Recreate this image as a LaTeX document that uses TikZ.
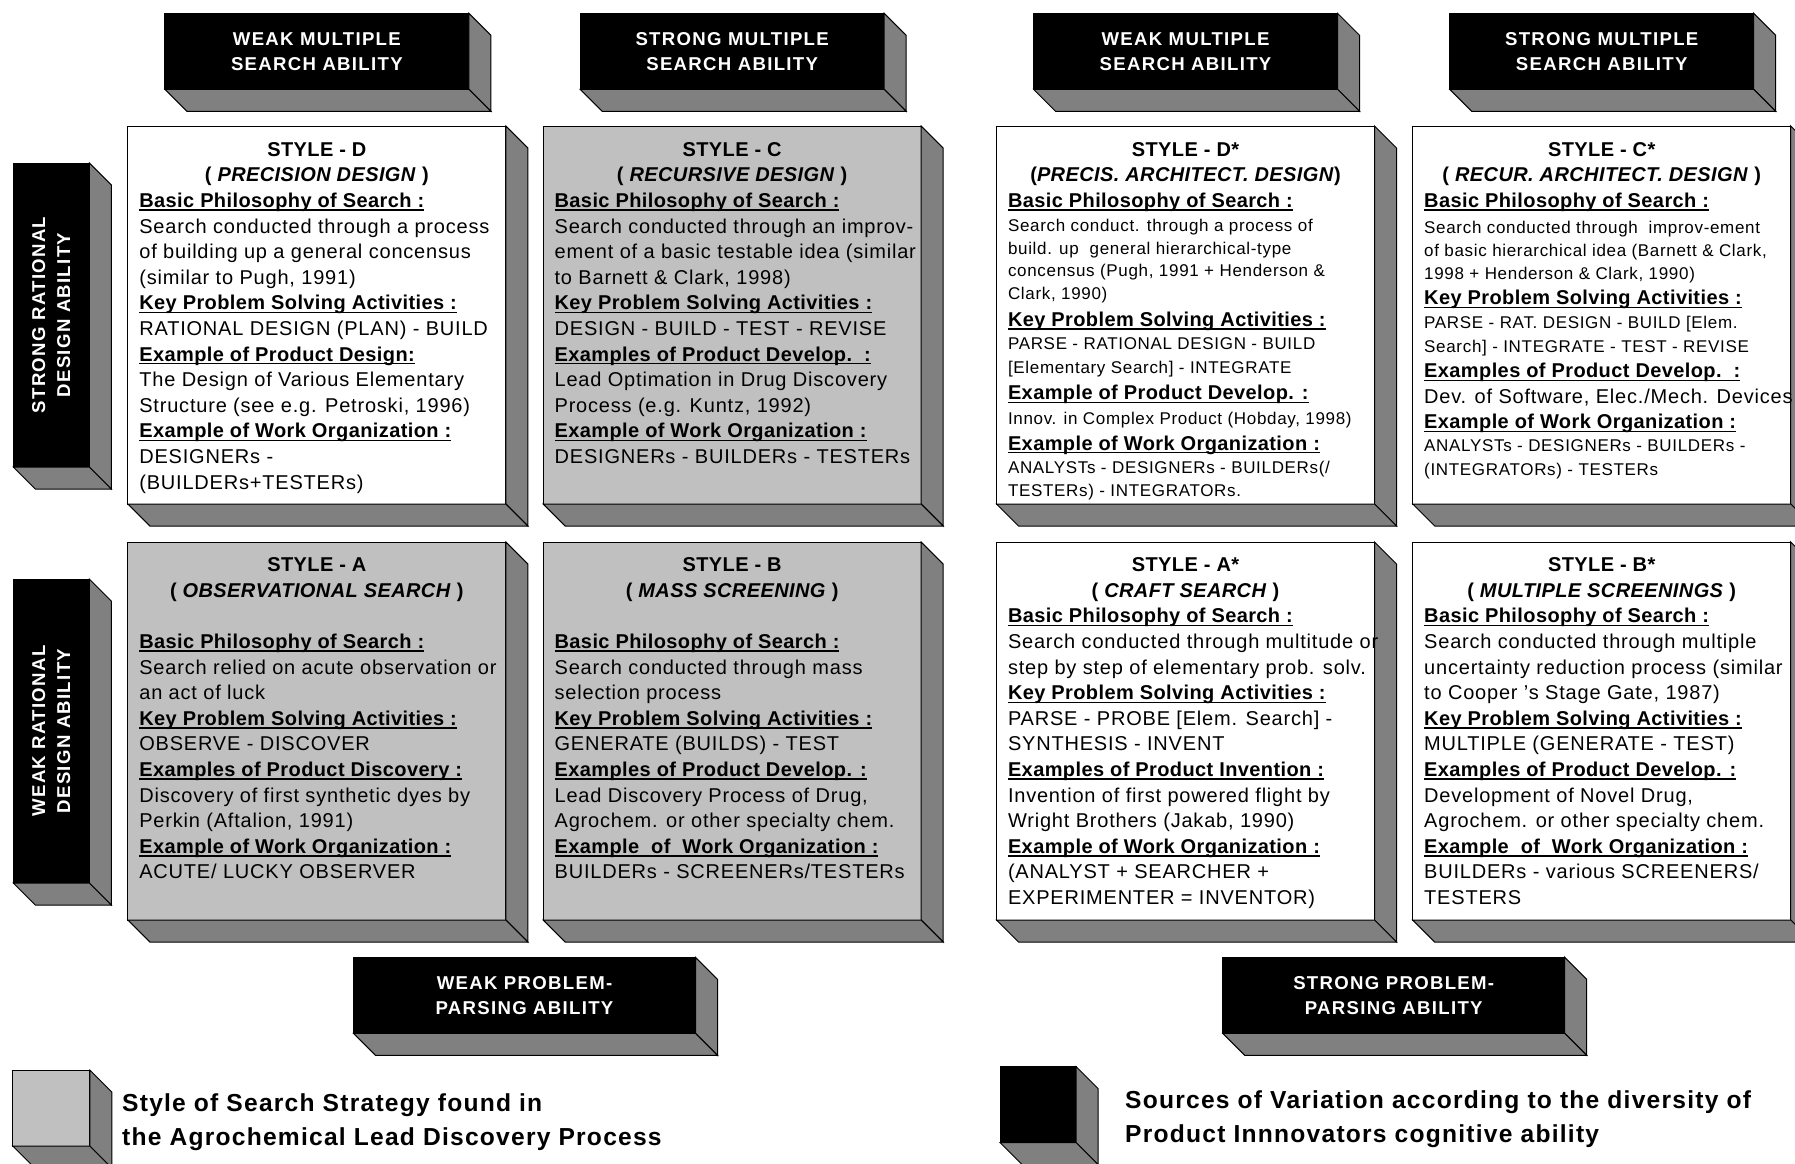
\documentclass[tikz,border=0pt]{standalone}
\usepackage{fontspec}
\setmainfont{Liberation Sans}[LetterSpace=4]
\newfontfamily\headfont{Liberation Sans}[LetterSpace=2]
\newfontfamily\labfont{Liberation Sans}[LetterSpace=7]
\newfontfamily\legfont{Liberation Sans}[LetterSpace=5]

\definecolor{sidegray}{HTML}{808080}
\definecolor{facegray}{HTML}{C0C0C0}

\newcommand{\sm}{\fontsize{17}{22}\selectfont}
\newcommand{\fst}{\rule{0pt}{16pt}}
\newcommand{\ttl}[1]{\makebox[355pt][c]{\headfont\bfseries #1}}
\newcommand{\hdline}[1]{\setbox0=\hbox{\headfont\bfseries #1}\rlap{\rule[-3.2pt]{\wd0}{1.3pt}}\box0}

\tikzset{
  face/.style={draw=black, line width=1pt, inner sep=0pt, outer sep=0pt},
  side/.style={draw=black, line width=1pt, fill=sidegray, line join=miter},
  cell/.style={face, minimum width=378pt, minimum height=378pt},
  lab/.style={text=white, align=center, inner sep=0pt, font=\labfont\bfseries\fontsize{18.6}{25}\selectfont},
  hdbox/.style={face, lab, fill=black, minimum width=304pt, minimum height=76pt},
  sidebox/.style={face, fill=black, minimum width=76pt, minimum height=304pt},
  botbox/.style={face, lab, fill=black, minimum width=342pt, minimum height=76pt},
  boxtext/.style={anchor=north west, inner sep=0pt, align=left, font=\fontsize{20}{25.6}\selectfont},
  legtext/.style={anchor=west, inner sep=0pt, align=left, font=\legfont\bfseries\fontsize{24.6}{34}\selectfont}
}

\begin{document}
\begin{tikzpicture}[x=1pt,y=-1pt]
\useasboundingbox (0,0) rectangle (1795,1163);

\node[hdbox] (hWeakL) at (316.85,51.3) {WEAK MULTIPLE\\SEARCH ABILITY};
\node[hdbox] (hStrongL) at (732.15,51.3) {STRONG MULTIPLE\\SEARCH ABILITY};
\node[hdbox] (hWeakR) at (1185.5,51.3) {WEAK MULTIPLE\\SEARCH ABILITY};
\node[hdbox] (hStrongR) at (1601.7,51.3) {STRONG MULTIPLE\\SEARCH ABILITY};

\node[sidebox] (sStrong) at (51.3,315) {};
\node[sidebox] (sWeak) at (51.3,731) {};

\node[cell, fill=white] (cD) at (316.85,315) {};
\node[cell, fill=facegray] (cC) at (732.15,315) {};
\node[cell, fill=white] (cDs) at (1185.5,315) {};
\node[cell, fill=white] (cCs) at (1601.7,315) {};
\node[cell, fill=facegray] (cA) at (316.85,731) {};
\node[cell, fill=facegray] (cB) at (732.15,731) {};
\node[cell, fill=white] (cAs) at (1185.5,731) {};
\node[cell, fill=white] (cBs) at (1601.7,731) {};

\node[botbox] (bWeak) at (524.5,995.3) {WEAK PROBLEM-\\PARSING ABILITY};
\node[botbox] (bStrong) at (1393.7,995.3) {STRONG PROBLEM-\\PARSING ABILITY};

\node[face, fill=facegray, minimum width=77pt, minimum height=76pt] (lgGray) at (51.3,1108) {};
\node[face, fill=black, minimum width=76pt, minimum height=76pt] (lgBlack) at (1038.2,1104.7) {};

\foreach \n in {hWeakL,hStrongL,hWeakR,hStrongR,sStrong,sWeak,cD,cC,cDs,cCs,cA,cB,cAs,cBs,bWeak,bStrong,lgGray,lgBlack} {
  \filldraw[side] (\n.north east) -- ++(22,22) -- ([shift={(22,22)}]\n.south east) -- (\n.south east) -- cycle;
  \filldraw[side] (\n.south west) -- ++(22,22) -- ([shift={(22,22)}]\n.south east) -- (\n.south east) -- cycle;
}

\node[lab, rotate=90] (tStrong) at (sStrong) {STRONG RATIONAL\\DESIGN ABILITY};
\node[lab, rotate=90] (tWeak) at (sWeak) {WEAK RATIONAL\\DESIGN ABILITY};

\node[boxtext] (txD) at ([shift={(11.3,14)}]cD.north west) {%
\fst\ttl{STYLE - D}\\
\ttl{( \textit{PRECISION DESIGN} )}\\
\hdline{Basic Philosophy of Search :}\\
Search conducted through a process\\
of building up a general concensus\\
(similar to Pugh, 1991)\\
\hdline{Key Problem Solving Activities :}\\
RATIONAL DESIGN (PLAN) - BUILD\\
\hdline{Example of Product Design:}\\
The Design of Various Elementary\\
Structure (see e.g. Petroski, 1996)\\
\hdline{Example of Work Organization :}\\
DESIGNERs -\\
(BUILDERs+TESTERs)};

\node[boxtext] (txC) at ([shift={(11.3,14)}]cC.north west) {%
\fst\ttl{STYLE - C}\\
\ttl{( \textit{RECURSIVE DESIGN} )}\\
\hdline{Basic Philosophy of Search :}\\
Search conducted through an improv-\\
ement of a basic testable idea (similar\\
to Barnett \& Clark, 1998)\\
\hdline{Key Problem Solving Activities :}\\
DESIGN - BUILD - TEST - REVISE\\
\hdline{Examples of Product Develop.\ \ :}\\
Lead Optimation in Drug Discovery\\
Process (e.g. Kuntz, 1992)\\
\hdline{Example of Work Organization :}\\
DESIGNERs - BUILDERs - TESTERs};

\node[boxtext] (txDs) at ([shift={(11.3,14)}]cDs.north west) {%
\fst\ttl{STYLE - D*}\\
\ttl{(\textit{PRECIS. ARCHITECT. DESIGN})}\\
\hdline{Basic Philosophy of Search :}\\[-1.5pt]
\sm Search conduct. through a process of\\[-3pt]
\sm build. up\ \ general hierarchical-type\\[-3pt]
\sm concensus (Pugh, 1991 + Henderson \&\\[-3pt]
\sm Clark, 1990)\\[1.5pt]
\hdline{Key Problem Solving Activities :}\\[-2.5pt]
\sm PARSE - RATIONAL DESIGN - BUILD\\[-2pt]
\sm [Elementary Search] - INTEGRATE\\[1.2pt]
\hdline{Example of Product Develop. :}\\[-1pt]
\sm Innov. in Complex Product (Hobday, 1998)\\
\hdline{Example of Work Organization :}\\[-2pt]
\sm ANALYSTs - DESIGNERs - BUILDERs(/\\[-3pt]
\sm TESTERs) - INTEGRATORs.};

\node[boxtext] (txCs) at ([shift={(11.3,14)}]cCs.north west) {%
\fst\ttl{STYLE - C*}\\
\ttl{( \textit{RECUR. ARCHITECT. DESIGN} )}\\
\hdline{Basic Philosophy of Search :}\\
\sm Search conducted through\ \ improv-ement\\[-2.5pt]
\sm of basic hierarchical idea (Barnett \& Clark,\\[-2.5pt]
\sm 1998 + Henderson \& Clark, 1990)\\
\hdline{Key Problem Solving Activities :}\\[-1.5pt]
\sm PARSE - RAT. DESIGN - BUILD [Elem.\\[-2.5pt]
\sm Search] - INTEGRATE - TEST - REVISE\\
\hdline{Examples of Product Develop.\ \ :}\\
Dev. of Software, Elec./Mech. Devices\\
\hdline{Example of Work Organization :}\\[-2.5pt]
\sm ANALYSTs - DESIGNERs - BUILDERs -\\[-2.5pt]
\sm (INTEGRATORs) - TESTERs};

\node[boxtext] (txA) at ([shift={(11.3,13.5)}]cA.north west) {%
\fst\ttl{STYLE - A}\\
\ttl{( \textit{OBSERVATIONAL SEARCH} )}\\[25.6pt]
\hdline{Basic Philosophy of Search :}\\
Search relied on acute observation or\\
an act of luck\\
\hdline{Key Problem Solving Activities :}\\
OBSERVE - DISCOVER\\
\hdline{Examples of Product Discovery :}\\
Discovery of first synthetic dyes by\\
Perkin (Aftalion, 1991)\\
\hdline{Example of Work Organization :}\\
ACUTE/ LUCKY OBSERVER};

\node[boxtext] (txB) at ([shift={(11.3,13.5)}]cB.north west) {%
\fst\ttl{STYLE - B}\\
\ttl{( \textit{MASS SCREENING} )}\\[25.6pt]
\hdline{Basic Philosophy of Search :}\\
Search conducted through mass\\
selection process\\
\hdline{Key Problem Solving Activities :}\\
GENERATE (BUILDS) - TEST\\
\hdline{Examples of Product Develop. :}\\
Lead Discovery Process of Drug,\\
Agrochem. or other specialty chem.\\
\hdline{Example\ \ of\ \ Work Organization :}\\
BUILDERs - SCREENERs/TESTERs};

\node[boxtext] (txAs) at ([shift={(11.3,13.5)}]cAs.north west) {%
\fst\ttl{STYLE - A*}\\
\ttl{( \textit{CRAFT SEARCH} )}\\
\hdline{Basic Philosophy of Search :}\\
Search conducted through multitude or\\
step by step of elementary prob. solv.\\
\hdline{Key Problem Solving Activities :}\\
PARSE - PROBE [Elem. Search] -\\
SYNTHESIS - INVENT\\
\hdline{Examples of Product Invention :}\\
Invention of first powered flight by\\
Wright Brothers (Jakab, 1990)\\
\hdline{Example of Work Organization :}\\
(ANALYST + SEARCHER +\\
EXPERIMENTER = INVENTOR)};

\node[boxtext] (txBs) at ([shift={(11.3,13.5)}]cBs.north west) {%
\fst\ttl{STYLE - B*}\\
\ttl{( \textit{MULTIPLE SCREENINGS} )}\\
\hdline{Basic Philosophy of Search :}\\
Search conducted through multiple\\
uncertainty reduction process (similar\\
to Cooper 's Stage Gate, 1987)\\
\hdline{Key Problem Solving Activities :}\\
MULTIPLE (GENERATE - TEST)\\
\hdline{Examples of Product Develop. :}\\
Development of Novel Drug,\\
Agrochem. or other specialty chem.\\
\hdline{Example\ \ of\ \ Work Organization :}\\
BUILDERs - various SCREENERS/\\
TESTERS};

\node[legtext] (lgtGray) at (122,1122) {Style of Search Strategy found in\\the Agrochemical Lead Discovery Process};
\node[legtext] (lgtBlack) at (1125,1119) {Sources of Variation according to the diversity of\\Product Innnovators cognitive ability};
\end{tikzpicture}
\end{document}
